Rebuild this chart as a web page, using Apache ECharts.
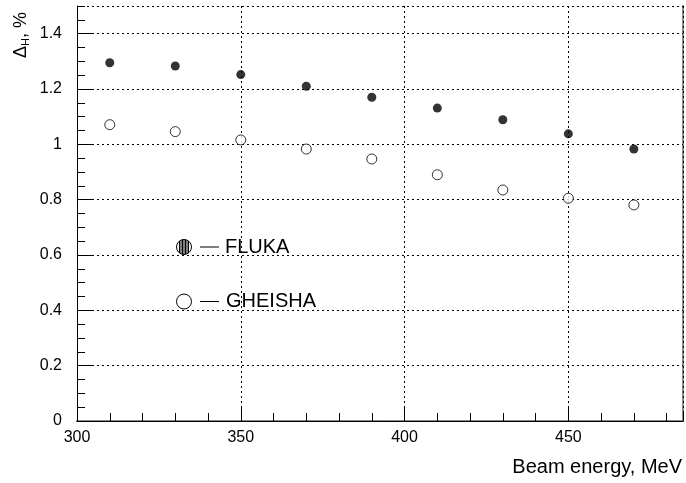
<!DOCTYPE html>
<html>
<head>
<meta charset="utf-8">
<script src="https://cdn.jsdelivr.net/npm/echarts@6/dist/echarts.min.js"></script>
<style>html,body{margin:0;padding:0;background:#fff}#c{width:686px;height:483px}</style>
</head>
<body>
<div id="c"></div>
<script>
const energies = [310, 330, 350, 370, 390, 410, 430, 450, 470];
const fluka    = [1.295, 1.283, 1.252, 1.210, 1.170, 1.131, 1.089, 1.038, 0.983];
const gheisha  = [1.071, 1.046, 1.016, 0.983, 0.947, 0.890, 0.835, 0.805, 0.781];
const xTicks = [300, 350, 400, 450];
const yTicks = [0, 0.2, 0.4, 0.6, 0.8, 1, 1.2, 1.4];
const seriesNames = ['FLUKA', 'GHEISHA'];
const xTitle = 'Beam energy, MeV';

const FONT = '"Liberation Sans", Arial, Helvetica, sans-serif';
const chart = echarts.init(document.getElementById('c'));

function zip(xs, ys) { return xs.map((x, i) => [x, ys[i]]); }

const dotted = { show: true, lineStyle: { color: '#000', width: 1, type: [2, 3] } };

// legend symbols
const r = 7.5, cx = 184, cy1 = 247, cy2 = 301.5;
const hatch = [];
for (let dx = -4.5; dx <= 4.51; dx += 1.5) {
  const h = Math.sqrt(r * r - dx * dx);
  hatch.push({ type: 'line', shape: { x1: cx + dx, y1: cy1 - h, x2: cx + dx, y2: cy1 + h }, style: { stroke: '#000', lineWidth: 1 } });
}

chart.setOption({
  animation: false,
  backgroundColor: '#fff',
  grid: { left: 77, right: 3, top: 6, bottom: 62 },
  xAxis: [
    { type: 'value', min: 300, max: 485, interval: 50, position: 'bottom',
      axisLine: { show: true, lineStyle: { color: '#000', width: 1 } },
      axisTick: { show: true, inside: true, length: 15, lineStyle: { color: '#000' } },
      axisLabel: { show: true, showMaxLabel: false, fontSize: 16, fontFamily: FONT, color: '#000', margin: 9 },
      splitLine: dotted, z: 5 },
    { type: 'value', min: 300, max: 485, interval: 10, position: 'bottom',
      axisLine: { show: false },
      axisTick: { show: true, inside: true, length: 8, lineStyle: { color: '#000' } },
      axisLabel: { show: false }, splitLine: { show: false } },
    { type: 'value', min: 300, max: 485, position: 'top',
      axisLine: { show: true, lineStyle: { color: '#888', width: 2 } },
      axisTick: { show: false }, axisLabel: { show: false }, splitLine: { show: false } }
  ],
  yAxis: [
    { type: 'value', min: 0, max: 1.5, interval: 0.2, position: 'left',
      axisLine: { show: true, lineStyle: { color: '#000', width: 1 } },
      axisTick: { show: true, inside: true, length: 15, lineStyle: { color: '#000' } },
      axisLabel: { show: true, showMaxLabel: false, fontSize: 16, fontFamily: FONT, color: '#000', margin: 15 },
      splitLine: dotted, z: 5 },
    { type: 'value', min: 0, max: 1.5, interval: 0.05, position: 'left',
      axisLine: { show: false },
      axisTick: { show: true, inside: true, length: 8, lineStyle: { color: '#000' } },
      axisLabel: { show: false }, splitLine: { show: false } },
    { type: 'value', min: 0, max: 1.5, position: 'right',
      axisLine: { show: true, lineStyle: { color: '#888', width: 2 } },
      axisTick: { show: false }, axisLabel: { show: false }, splitLine: { show: false } }
  ],
  series: [
    { name: seriesNames[0], type: 'scatter', xAxisIndex: 0, yAxisIndex: 0, data: zip(energies, fluka),
      symbol: 'circle', symbolSize: 9, itemStyle: { color: '#000' }, z: 10 },
    { name: seriesNames[1], type: 'scatter', xAxisIndex: 0, yAxisIndex: 0, data: zip(energies, gheisha),
      symbol: 'circle', symbolSize: 10, itemStyle: { color: '#fff', borderColor: '#000', borderWidth: 1 }, z: 10 }
  ],
  graphic: [
    { type: 'text', x: 682, y: 467, style: { text: xTitle, font: '20px ' + FONT, fill: '#000', textAlign: 'right', textVerticalAlign: 'middle' } },
    { type: 'text', x: 21, y: 58, rotation: Math.PI / 2,
      style: { text: '{d|Δ}{s|H}{d|, %}', textAlign: 'left', textVerticalAlign: 'middle',
        rich: { d: { fontSize: 18, fontFamily: FONT, fill: '#000' }, s: { fontSize: 11, fontFamily: FONT, fill: '#000', padding: [9, 0, 0, 0] } } } },
    { type: 'group', z: 20, children: [
      { type: 'circle', shape: { cx: cx, cy: cy1, r: r }, style: { fill: '#fff', stroke: '#000', lineWidth: 1 } }
    ].concat(hatch).concat([
      { type: 'line', shape: { x1: 200, y1: cy1, x2: 219, y2: cy1 }, style: { stroke: '#000', lineWidth: 1 } },
      { type: 'text', x: 225, y: cy1, style: { text: seriesNames[0], font: '20px ' + FONT, fill: '#000', textVerticalAlign: 'middle' } },
      { type: 'circle', shape: { cx: cx, cy: cy2, r: r }, style: { fill: '#fff', stroke: '#000', lineWidth: 1 } },
      { type: 'line', shape: { x1: 200, y1: cy2, x2: 219, y2: cy2 }, style: { stroke: '#000', lineWidth: 1 } },
      { type: 'text', x: 226, y: cy2, style: { text: seriesNames[1], font: '20px ' + FONT, fill: '#000', textVerticalAlign: 'middle' } }
    ]) }
  ]
});
</script>
</body>
</html>
